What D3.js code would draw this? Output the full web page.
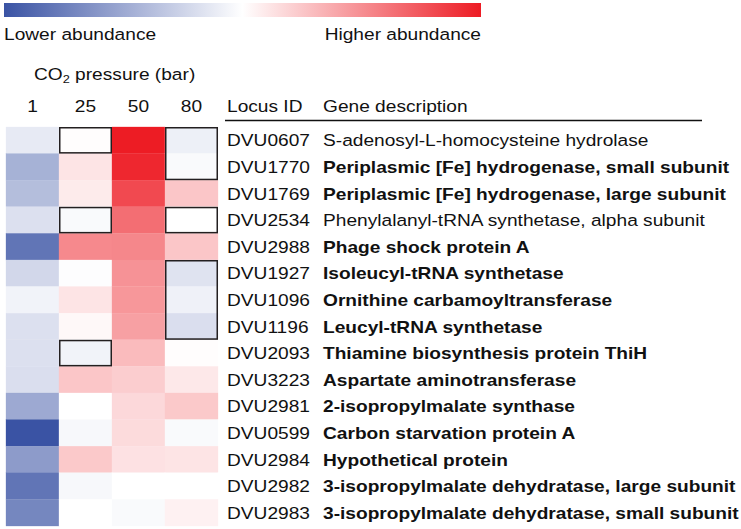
<!DOCTYPE html>
<html>
  <head>
    <script type="text/javascript" src="https://cdnjs.cloudflare.com/ajax/libs/d3/7.8.5/d3.min.js"></script>
    <style type="text/css">

html, body {
  margin: 0;
  background: #fff;
}

svg {
  display: block;
}

text {
  font-family: "Liberation Sans", Arial, sans-serif;
  font-size: 16.5px;
  fill: #111;
}

    </style>
  </head>
  <body>
    <div id="chart"></div>
    <script type="text/javascript">

var pressures = ["1", "25", "50", "80"];

var locusIds = ["DVU0607", "DVU1770", "DVU1769", "DVU2534", "DVU2988",
  "DVU1927", "DVU1096", "DVU1196", "DVU2093", "DVU3223",
  "DVU2981", "DVU0599", "DVU2984", "DVU2982", "DVU2983"];

var genes = ["S-adenosyl-L-homocysteine hydrolase",
  "Periplasmic [Fe] hydrogenase, small subunit",
  "Periplasmic [Fe] hydrogenase, large subunit",
  "Phenylalanyl-tRNA synthetase, alpha subunit",
  "Phage shock protein A",
  "Isoleucyl-tRNA synthetase",
  "Ornithine carbamoyltransferase",
  "Leucyl-tRNA synthetase",
  "Thiamine biosynthesis protein ThiH",
  "Aspartate aminotransferase",
  "2-isopropylmalate synthase",
  "Carbon starvation protein A",
  "Hypothetical protein",
  "3-isopropylmalate dehydratase, large subunit",
  "3-isopropylmalate dehydratase, small subunit"];

var boldGenes = [false, true, true, false, true, true, true, true, true, true, true, true, true, true, true];

// relative abundance, -1 (lower) .. 1 (higher)
var bar1  = [-0.12, -0.45, -0.38, -0.18, -0.80, -0.23, -0.07, -0.18, -0.18, -0.19, -0.50, -1.00, -0.58, -0.80, -0.70];
var bar25 = [ 0.01,  0.12,  0.09, -0.03,  0.52, -0.01,  0.12,  0.03, -0.07,  0.25,  0.00, -0.04,  0.24, -0.04,  0.00];
var bar50 = [ 1.00,  0.95,  0.80,  0.64,  0.53,  0.48,  0.46,  0.42,  0.30,  0.22,  0.17,  0.16,  0.13,  0.00, -0.03];
var bar80 = [-0.09, -0.03,  0.25,  0.00,  0.25, -0.16, -0.08, -0.19,  0.01,  0.10,  0.24, -0.03,  0.12,  0.00,  0.06];

// framed cells: column, first row, last row
var framed = [["25", 0, 0], ["80", 0, 1], ["25", 3, 3], ["80", 3, 3], ["80", 5, 7], ["25", 8, 8]];

var width = 741,
    height = 529,
    stretch = 1.16;

var svg = d3.select("#chart").append("svg")
    .attr("width", width)
    .attr("height", height);

var color = d3.scaleLinear()
    .domain([-1, 0, 1])
    .range(["#3a53a4", "#ffffff", "#ed1c24"]);

var x = d3.scaleBand().domain(pressures).range([6, 218]);
var y = d3.scaleBand().domain(locusIds).range([127, 526]);

function label(txt, tx, ty, anchor) {
  return svg.append("text")
      .attr("transform", "translate(" + tx + "," + ty + ") scale(" + stretch + ",1)")
      .attr("text-anchor", anchor || "start")
      .text(txt);
}

// colour key
var grad = svg.append("defs").append("linearGradient")
    .attr("id", "key");
grad.selectAll("stop")
    .data([-1, -0.5, 0, 0.5, 1])
  .enter().append("stop")
    .attr("offset", function(d) { return (d + 1) / 2; })
    .attr("stop-color", color);

svg.append("rect")
    .attr("x", 4)
    .attr("y", 3)
    .attr("width", 477)
    .attr("height", 14)
    .style("fill", "url(#key)");

label("Lower abundance", 4, 40);
label("Higher abundance", 481, 40, "end");

var co2 = svg.append("text")
    .attr("transform", "translate(34,80) scale(" + stretch + ",1)");
co2.append("tspan").text("CO");
co2.append("tspan").attr("font-size", "11px").attr("dy", 3).text("2");
co2.append("tspan").attr("dy", -3).text(" pressure (bar)");

pressures.forEach(function(p) {
  label(p, x(p) + x.bandwidth() / 2, 112, "middle");
});

label("Locus ID", 227, 112);
label("Gene description", 323, 112);

svg.append("line")
    .attr("x1", 225)
    .attr("x2", 702)
    .attr("y1", 120.5)
    .attr("y2", 120.5)
    .style("stroke", "#111")
    .style("stroke-width", 1.3);

// heat cells
var columns = [bar1, bar25, bar50, bar80];
var cells = [];
columns.forEach(function(vals, i) {
  vals.forEach(function(v, j) {
    cells.push({p: pressures[i], id: locusIds[j], v: v});
  });
});

svg.selectAll("rect.cell")
    .data(cells)
  .enter().append("rect")
    .attr("class", "cell")
    .attr("x", function(d) { return x(d.p); })
    .attr("y", function(d) { return y(d.id); })
    .attr("width", x.bandwidth())
    .attr("height", y.bandwidth())
    .style("fill", function(d) { return color(d.v); })
    .style("stroke", function(d) { return color(d.v); })
    .style("stroke-width", 0.3);

svg.selectAll("rect.frame")
    .data(framed)
  .enter().append("rect")
    .attr("class", "frame")
    .attr("x", function(d) { return x(d[0]) + 0.75; })
    .attr("y", function(d) { return y(locusIds[d[1]]) + 0.75; })
    .attr("width", x.bandwidth() - 1.5)
    .attr("height", function(d) { return (d[2] - d[1] + 1) * y.bandwidth() - 1.5; })
    .style("fill", "none")
    .style("stroke", "#231f20")
    .style("stroke-width", 1.5);

// row labels
locusIds.forEach(function(id, j) {
  var cy = y(id) + y.bandwidth() / 2 + 6;
  label(id, 227, cy);
  label(genes[j], 323, cy)
      .style("font-weight", boldGenes[j] ? "bold" : "normal");
});

    </script>
  </body>
</html>
